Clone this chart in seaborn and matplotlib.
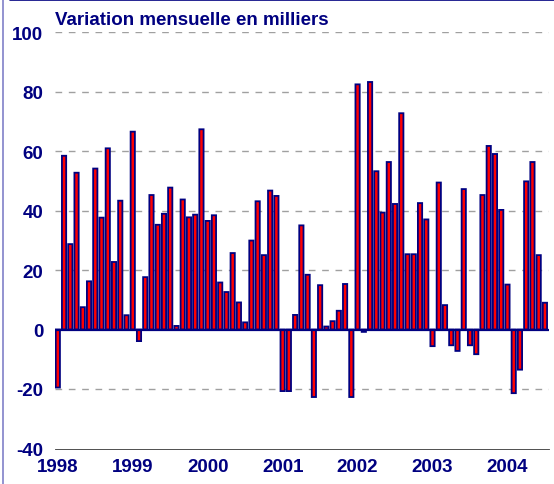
import numpy as np
import pandas as pd
import matplotlib.pyplot as plt
import seaborn as sns

# monthly change, thousands (Jan 1998 - Jul 2004)
years = ['1998', '1999', '2000', '2001', '2002', '2003', '2004']
v1998 = [-19.5, 58.4, 28.7, 52.7, 7.5, 16.2, 54.1, 37.6, 60.9, 22.7, 43.3, 4.8]
v1999 = [66.5, -3.9, 17.6, 45.2, 35.2, 38.9, 47.7, 1.2, 43.7, 37.7, 38.6, 67.3]
v2000 = [36.5, 38.4, 15.8, 12.6, 25.7, 9.1, 2.4, 29.9, 43.1, 25.0, 46.7, 44.9]
v2001 = [-20.7, -20.7, 4.9, 35.0, 18.4, -22.7, 14.9, 1.0, 2.8, 6.3, 15.3, -22.7]
v2002 = [82.4, -0.8, 83.2, 53.2, 39.3, 56.3, 42.2, 72.7, 25.3, 25.3, 42.5, 37.0]
v2003 = [-5.6, 49.4, 8.2, -5.3, -7.2, 47.2, -5.3, -8.3, 45.2, 61.7, 59.0, 40.2]
v2004 = [15.1, -21.4, -13.5, 49.8, 56.3, 25.0, 9.0]
y_ticks = [-40, -20, 0, 20, 40, 60, 80, 100]

values = v1998 + v1999 + v2000 + v2001 + v2002 + v2003 + v2004
months = [f'{y}-{m:02d}' for y in years for m in range(1, 13)][:len(values)]
df = pd.DataFrame({'mois': months, 'variation': values})

navy = '#000080'
sns.set_style('white')
plt.rcParams['font.family'] = ['Liberation Sans', 'DejaVu Sans']

fig = plt.figure(figsize=(5.54, 4.85), dpi=100)
ax = fig.add_axes([55 / 554, 1 - 449.5 / 485, 494 / 554, 416.5 / 485])

sns.barplot(data=df, x='mois', y='variation', color='red', saturation=1,
            edgecolor=navy, linewidth=1.3, width=0.68, ax=ax, zorder=3)
for p in ax.patches:
    p.set_snap(False)

ax.set_xlim(-0.45, len(values) - 0.35)
ax.set_ylim(-40, 100)
ax.axhline(0, color=navy, lw=1.6, zorder=4)

# grid
ax.set_yticks(y_ticks)
ax.set_yticklabels([str(t) for t in y_ticks], color=navy, fontweight='bold', fontsize=13.5)
ax.yaxis.grid(True, color='#a0a0a0', lw=1, linestyle=(0, (4.8, 4.8)))
ax.get_ygridlines()[0].set_visible(False)
ax.get_ygridlines()[2].set_visible(False)
ax.set_axisbelow(True)
ax.tick_params(axis='y', length=0, pad=8.5)

# year ticks on the months
ax.set_xticks(range(0, len(values), 12))
ax.set_xticklabels(years, color=navy, fontweight='bold', fontsize=13.5)
ax.set_xticks(range(len(values)), minor=True)
ax.tick_params(axis='x', which='major', direction='in', length=5, width=0.6, color='#333333', pad=7)
ax.tick_params(axis='x', which='minor', direction='in', length=3, width=0.6, color='#333333')
ax.set_xlabel('')
ax.set_ylabel('')

for s in ['top', 'right', 'left']:
    ax.spines[s].set_visible(False)
ax.spines['bottom'].set_color('#333333')
ax.spines['bottom'].set_linewidth(0.6)

fig.text(55 / 554, 1 - 25 / 485, 'Variation mensuelle en milliers', color=navy,
         fontweight='bold', fontsize=13.5, va='baseline', ha='left')

# frame pieces of the slide
fig.add_artist(plt.Line2D([2.5 / 554, 2.5 / 554], [0, 1], color='#8080c8', lw=1.2))
fig.add_artist(plt.Line2D([10 / 554, 1], [1 - 0.6 / 485, 1 - 0.6 / 485], color=navy, lw=1.2))

fig.savefig('out.png', dpi=100)
